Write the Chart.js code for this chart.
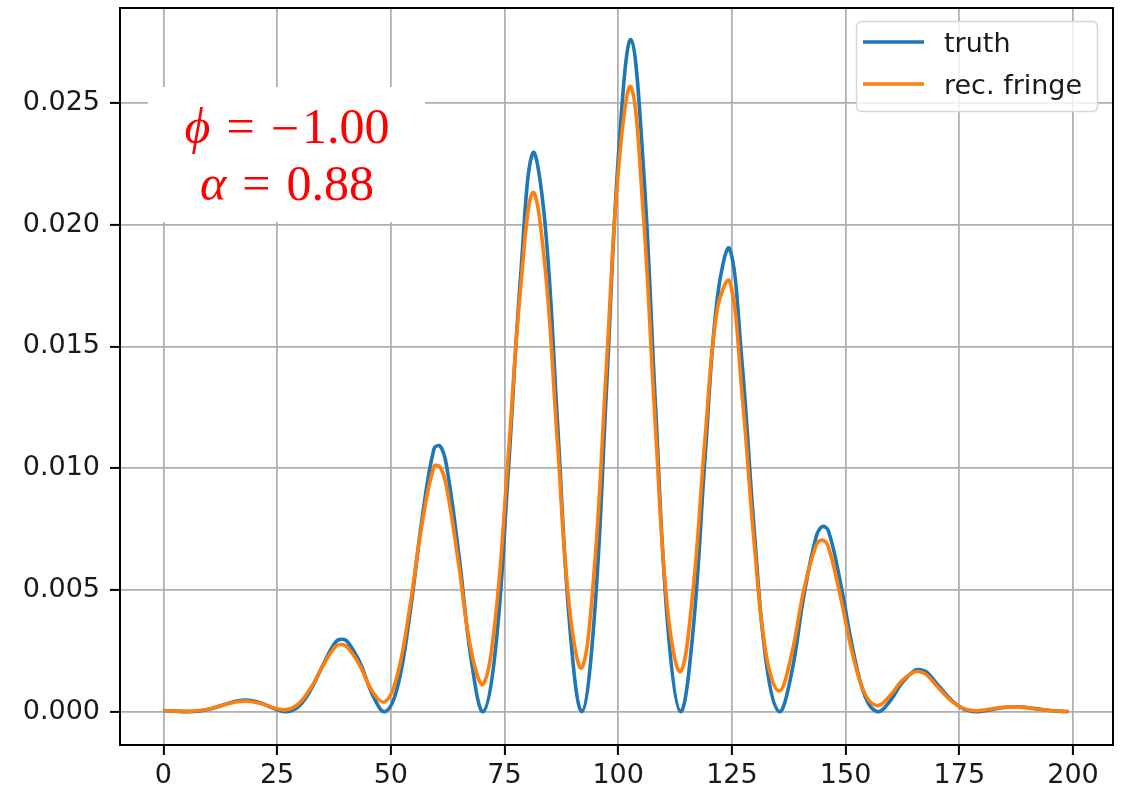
<!DOCTYPE html>
<html>
<head>
<meta charset="utf-8">
<script src="https://cdn.jsdelivr.net/npm/chart.js@4.4.0/dist/chart.umd.min.js"></script>
<style>
    html, body { margin: 0; padding: 0; background: #fff; }
    canvas { display: block; }
</style>
</head>
<body>
<canvas id="miGrafico" width="1130" height="791"></canvas>
<script>
// Posiciones de muestreo (píxel del detector)
const posiciones = [0, 2.6, 5.3, 8.0, 10.7, 13.4, 16.1, 17.45, 18.8, 21.6, 24.3,
    27.0, 29.7, 32.4, 35.1, 37.8, 39.15, 40.5, 43.3, 46.0,
    48.7, 51.4, 54.1, 56.8, 59.5, 60.85, 62.2, 64.9, 67.7,
    70.3, 73.0, 75.7, 78.5, 81.2, 83.9, 86.6, 89.3,
    92.0, 94.7, 97.4, 100.1, 102.8, 105.5, 108.2, 110.9,
    113.7, 116.4, 119.1, 121.8, 124.5, 127.2, 129.9, 132.6,
    135.4, 138.1, 140.8, 143.5, 144.85, 146.2, 148.9, 151.6, 154.3,
    157.0, 159.7, 162.4, 165.1, 166.45, 167.8, 170.5, 173.3, 176.0,
    178.7, 181.4, 184.1, 186.8, 188.15, 189.5, 192.2, 194.9, 197.6, 199];

// Intensidad real
const truth = [0.00005, 0.000019, 0, 0.00003, 0.000133, 0.00029, 0.000436, 0.000471, 0.000469, 0.000346, 0.000128,
    0, 0.000208, 0.000896, 0.001926, 0.002846, 0.002974, 0.002867, 0.001983, 0.000685,
    0, 0.000961, 0.003878, 0.007815, 0.010804, 0.010903, 0.010157, 0.006549, 0.00211,
    0, 0.002518, 0.009465, 0.017786, 0.022937, 0.020065, 0.012043, 0.003614,
    0, 0.003754, 0.013142, 0.022989, 0.0276, 0.022487, 0.012572, 0.003513,
    0, 0.0032, 0.010434, 0.017001, 0.01901, 0.014393, 0.007479, 0.001942,
    0, 0.001561, 0.004729, 0.00716, 0.007599, 0.00744, 0.005269, 0.00256, 0.000621,
    0, 0.000418, 0.001184, 0.001677, 0.001721, 0.00163, 0.001055, 0.000468, 0.000104,
    0, 0.00006, 0.000156, 0.000202, 0.000198, 0.000179, 0.000113, 0.000049, 0.000011, 0.000003];

// Franja reconstruida
const recFringe = [0.000046, 0.000022, 0.000012, 0.000046, 0.000143, 0.000282, 0.000405, 0.000432, 0.000428, 0.000321, 0.00015,
    0.000082, 0.000321, 0.000973, 0.001892, 0.002672, 0.002757, 0.002637, 0.001855, 0.000809,
    0.000403, 0.001476, 0.004188, 0.007628, 0.010073, 0.010039, 0.009279, 0.006086, 0.002474,
    0.001126, 0.003854, 0.010192, 0.017309, 0.021324, 0.018278, 0.011159, 0.004224,
    0.001802, 0.005747, 0.014151, 0.022372, 0.02566, 0.020485, 0.011649, 0.004106,
    0.001649, 0.004899, 0.011235, 0.016545, 0.017674, 0.013112, 0.00693, 0.00227,
    0.000846, 0.002338, 0.004982, 0.006818, 0.007043, 0.006768, 0.004697, 0.002321, 0.000711,
    0.000248, 0.00064, 0.001275, 0.001632, 0.00163, 0.001515, 0.000961, 0.000434, 0.000121,
    0.000039, 0.000092, 0.000168, 0.000196, 0.000187, 0.000166, 0.000103, 0.000046, 0.000013, 0.000006];

const ticksX = [0, 25, 50, 75, 100, 125, 150, 175, 200];
const ticksY = [0, 0.005, 0.010, 0.015, 0.020, 0.025];
const etiquetas = ['truth', 'rec. fringe'];
const colores = ['#1f77b4', '#ff7f0e'];

const fuenteEjes = '"DejaVu Sans", sans-serif';
const fuenteTexto = '"Liberation Serif", "DejaVu Serif", serif';

// Marco negro alrededor del área de datos
const marco = {
    id: 'marco',
    afterDatasetsDraw(chart) {
        const { ctx, chartArea: a } = chart;
        ctx.save();
        ctx.strokeStyle = '#000';
        ctx.lineWidth = 2;
        ctx.strokeRect(a.left, a.top, a.right - a.left, a.bottom - a.top);
        ctx.restore();
    }
};

// Dibuja una línea de texto tipo ecuación centrada en cx
function dibujarEcuacion(ctx, piezas, cx, y) {
    let total = 0;
    piezas.forEach((p) => {
        ctx.font = (p.cursiva ? 'italic ' : '') + '50px ' + fuenteTexto;
        p.ancho = ctx.measureText(p.t).width;
        total += p.ancho + (p.gap || 0);
    });
    let x = cx - total / 2;
    piezas.forEach((p) => {
        ctx.font = (p.cursiva ? 'italic ' : '') + '50px ' + fuenteTexto;
        ctx.fillText(p.t, x, y + (p.dy || 0));
        x += p.ancho + (p.gap || 0);
    });
}

// Caja con los parámetros y leyenda
const anotaciones = {
    id: 'anotaciones',
    afterDraw(chart) {
        const ctx = chart.ctx;
        ctx.save();

        // Caja blanca con phi y alpha
        ctx.fillStyle = '#fff';
        ctx.fillRect(148, 87, 277, 135);
        ctx.fillStyle = '#ff0000';
        ctx.textBaseline = 'alphabetic';
        ctx.textAlign = 'left';
        dibujarEcuacion(ctx, [
            { t: 'ϕ', cursiva: true, gap: 16 }, { t: '=', gap: 16 }, { t: '−', gap: 3, dy: 2 }, { t: '1.00' }
        ], 287, 143);
        dibujarEcuacion(ctx, [
            { t: 'α', cursiva: true, gap: 16 }, { t: '=', gap: 16 }, { t: '0.88' }
        ], 287, 200);

        // Leyenda
        ctx.beginPath();
        ctx.roundRect(856.5, 21.5, 241, 90, 5);
        ctx.fillStyle = 'rgba(255,255,255,0.8)';
        ctx.fill();
        ctx.strokeStyle = '#d6d6d6';
        ctx.lineWidth = 1.5;
        ctx.stroke();

        const filas = [42, 84];
        etiquetas.forEach((texto, i) => {
            ctx.beginPath();
            ctx.moveTo(863, filas[i]);
            ctx.lineTo(924, filas[i]);
            ctx.strokeStyle = colores[i];
            ctx.lineWidth = 3.6;
            ctx.stroke();
            ctx.fillStyle = '#1a1a1a';
            ctx.font = '27px ' + fuenteEjes;
            ctx.fillText(texto, 944, filas[i] + 10);
        });
        ctx.restore();
    }
};

const ctx = document.getElementById('miGrafico').getContext('2d');
const miGrafico = new Chart(ctx, {
    type: 'line',
    data: {
        datasets: [{
            label: etiquetas[0],
            data: posiciones.map((x, i) => ({ x: x, y: truth[i] })),
            borderColor: colores[0],
            borderWidth: 3.6,
            pointRadius: 0,
            tension: 0.4,
            fill: false,
            order: 1
        }, {
            label: etiquetas[1],
            data: posiciones.map((x, i) => ({ x: x, y: recFringe[i] })),
            borderColor: colores[1],
            borderWidth: 3.6,
            pointRadius: 0,
            tension: 0.4,
            fill: false,
            order: 0
        }]
    },
    options: {
        responsive: false,
        animation: false,
        layout: { padding: { top: 8, right: 17, left: 0, bottom: 0 } },
        plugins: {
            legend: { display: false },
            tooltip: { enabled: false }
        },
        scales: {
            x: {
                type: 'linear',
                min: -9.55,
                max: 208.8,
                afterBuildTicks: (eje) => { eje.ticks = ticksX.map((v) => ({ value: v })); },
                afterFit: (eje) => {
                    eje.height = 46;
                    eje.paddingLeft = 0;
                    eje.paddingRight = 0;
                },
                grid: { color: '#b0b0b0', lineWidth: 1.8, tickColor: '#000', tickWidth: 2, tickLength: 10 },
                border: { display: false },
                ticks: {
                    color: '#1a1a1a',
                    font: { family: fuenteEjes, size: 27 },
                    padding: 5,
                    maxRotation: 0,
                    callback: (v) => String(v)
                }
            },
            y: {
                type: 'linear',
                min: -0.00137,
                max: 0.0289,
                afterBuildTicks: (eje) => { eje.ticks = ticksY.map((v) => ({ value: v })); },
                afterFit: (eje) => {
                    eje.width = 120;
                    eje.paddingTop = 0;
                    eje.paddingBottom = 0;
                },
                grid: { color: '#b0b0b0', lineWidth: 1.8, tickColor: '#000', tickWidth: 2, tickLength: 10 },
                border: { display: false },
                ticks: {
                    color: '#1a1a1a',
                    font: { family: fuenteEjes, size: 27 },
                    padding: 10,
                    callback: (v) => v.toFixed(3)
                }
            }
        }
    },
    plugins: [marco, anotaciones]
});
</script>
</body>
</html>
